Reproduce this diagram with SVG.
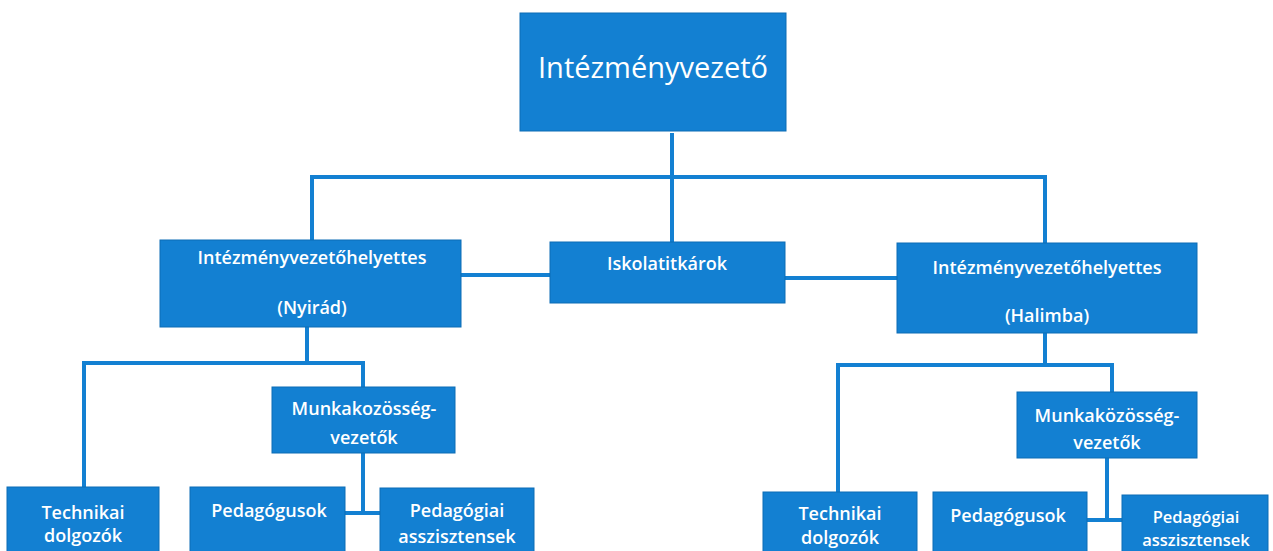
<svg xmlns="http://www.w3.org/2000/svg" width="1273" height="551" viewBox="0 0 1273 551">
<style>
.box{fill:#1380d2;stroke:#0c6cb5;stroke-width:1}
.t{fill:#ffffff;font-family:"Open Sans","Liberation Sans",sans-serif;font-size:18px;font-weight:600;text-anchor:middle;dominant-baseline:central}
.big{font-size:29px;font-weight:400}
.sm{font-size:16.5px}
.c{fill:none;stroke:#1380d2;stroke-width:4;stroke-linecap:square}
</style>
<rect width="1273" height="551" fill="#ffffff"/>
<g id="connectors">
<path class="c" d="M672,135 V242"/>
<path class="c" d="M312,177 H1045"/>
<path class="c" d="M312,177 V240"/>
<path class="c" d="M1045,177 V243"/>
<path class="c" d="M461,275 H550"/>
<path class="c" d="M785,278 H897"/>
<path class="c" d="M307,327 V363"/>
<path class="c" d="M84,363 H363"/>
<path class="c" d="M84,363 V487"/>
<path class="c" d="M363,363 V387"/>
<path class="c" d="M363,453 V513"/>
<path class="c" d="M345,513 H380"/>
<path class="c" d="M1045,333 V365"/>
<path class="c" d="M838,365 H1112"/>
<path class="c" d="M838,365 V492"/>
<path class="c" d="M1112,365 V392"/>
<path class="c" d="M1107,458 V520"/>
<path class="c" d="M1087,520 H1122"/>
</g>
<g id="intezmenyvezeto">
<rect class="box" x="520" y="13" width="266" height="118"/>
<text class="t big" x="653" y="66">Intézményvezető</text>
</g>
<g id="helyettes-nyirad">
<rect class="box" x="160" y="240" width="301" height="87"/>
<text class="t" x="312" y="257">Intézményvezetőhelyettes</text>
<text class="t" x="312" y="307">(Nyirád)</text>
</g>
<g id="iskolatitkarok">
<rect class="box" x="550" y="242" width="235" height="61"/>
<text class="t" x="667" y="263">Iskolatitkárok</text>
</g>
<g id="helyettes-halimba">
<rect class="box" x="897" y="243" width="300" height="90"/>
<text class="t" x="1047" y="267">Intézményvezetőhelyettes</text>
<text class="t" x="1047" y="315">(Halimba)</text>
</g>
<g id="munkakozosseg-nyirad">
<rect class="box" x="272" y="387" width="183" height="66"/>
<text class="t" x="364" y="408">Munkakozösség-</text>
<text class="t" x="364" y="437">vezetők</text>
</g>
<g id="technikai-nyirad">
<rect class="box" x="7" y="487" width="152" height="70"/>
<text class="t" x="83" y="512">Technikai</text>
<text class="t" x="83" y="535">dolgozók</text>
</g>
<g id="pedagogusok-nyirad">
<rect class="box" x="190" y="487" width="155" height="70"/>
<text class="t" x="269" y="510">Pedagógusok</text>
</g>
<g id="asszisztensek-nyirad">
<rect class="box" x="380" y="488" width="154" height="70"/>
<text class="t" x="457" y="510">Pedagógiai</text>
<text class="t" x="457" y="536">asszisztensek</text>
</g>
<g id="munkakozosseg-halimba">
<rect class="box" x="1017" y="392" width="180" height="66"/>
<text class="t" x="1107" y="415">Munkaközösség-</text>
<text class="t" x="1107" y="442">vezetők</text>
</g>
<g id="technikai-halimba">
<rect class="box" x="763" y="492" width="154" height="65"/>
<text class="t" x="840" y="513">Technikai</text>
<text class="t" x="840" y="537">dolgozók</text>
</g>
<g id="pedagogusok-halimba">
<rect class="box" x="933" y="492" width="154" height="65"/>
<text class="t" x="1008" y="515">Pedagógusok</text>
</g>
<g id="asszisztensek-halimba">
<rect class="box" x="1122" y="495" width="146" height="62"/>
<text class="t sm" x="1196" y="516">Pedagógiai</text>
<text class="t sm" x="1196" y="539">asszisztensek</text>
</g>
</svg>
